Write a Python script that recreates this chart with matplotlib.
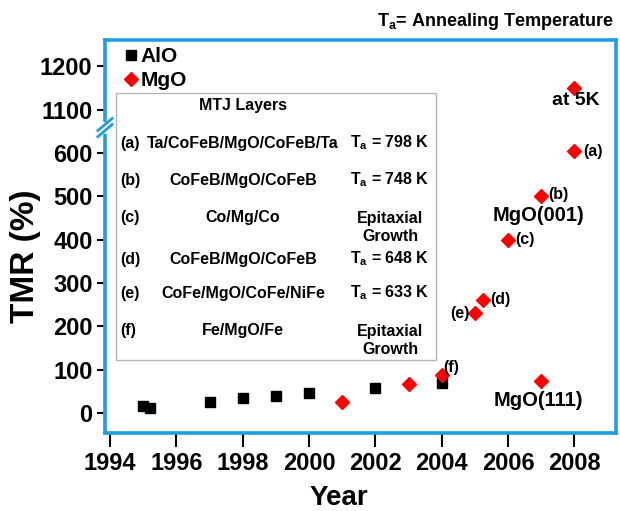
import matplotlib
matplotlib.use("Agg")
import matplotlib.pyplot as plt
from matplotlib.patches import Rectangle
import numpy as np

# data (TMR values above 1000 sit on the upper part of the broken axis)
alo_year = [1995, 1995.2, 1997, 1998, 1999, 2000, 2002, 2004]
alo_tmr = [17, 11, 26, 35, 40, 47, 58, 70]
mgo_year = [2001, 2003, 2004, 2005, 2005.25, 2006, 2007, 2008, 2007, 2008]
mgo_tmr = [25, 67, 88, 230, 260, 400, 500, 604, 75, 1150]
ytick_vals = [0, 100, 200, 300, 400, 500, 600, 1100, 1200]
xtick_vals = [1994, 1996, 1998, 2000, 2002, 2004, 2006, 2008]

# table of MTJ layers
tab_tags = ['(a)', '(b)', '(c)', '(d)', '(e)', '(f)']
tab_layers = ['Ta/CoFeB/MgO/CoFeB/Ta', 'CoFeB/MgO/CoFeB', 'Co/Mg/Co',
              'CoFeB/MgO/CoFeB', 'CoFe/MgO/CoFe/NiFe', 'Fe/MgO/Fe']
tab_temp = [798, 748, None, 648, 633, None]


def brk(v):
    # collapse the gap between 600 and 1100
    v = np.asarray(v, dtype=float)
    return np.where(v > 1000, v - 400, v)


plt.rcParams['font.family'] = ['Liberation Sans', 'DejaVu Sans']
plt.rcParams['font.weight'] = 'bold'
plt.rcParams['mathtext.fontset'] = 'custom'
plt.rcParams['mathtext.rm'] = 'Liberation Sans:bold'
plt.rcParams['mathtext.it'] = 'Liberation Sans:bold'
plt.rcParams['mathtext.bf'] = 'Liberation Sans:bold'

blue = '#1E9FE0'
red = '#FF0000'

fig = plt.figure(figsize=(6.2, 5.11), dpi=100)
ax = fig.add_axes([0.1694, 0.1526, 0.8241, 0.7691])

ax.plot(alo_year, brk(alo_tmr), 's', color='black', markersize=7.5, label='AlO', zorder=3)
ax.plot(mgo_year, brk(mgo_tmr), 'D', color=red, markersize=7, label='MgO', zorder=3)

ax.set_xlim(1993.85, 2009.25)
ax.set_ylim(-46, 861)
ax.set_xticks(xtick_vals)
ax.set_yticks(brk(ytick_vals))
ax.set_yticklabels([str(v) for v in ytick_vals])
ax.tick_params(direction='out', width=1.5, color='black', labelsize=17)
ax.tick_params(axis='x', length=10, pad=4)
ax.tick_params(axis='y', length=6, pad=3)

for s in ax.spines.values():
    s.set_color(blue)
    s.set_linewidth(2.6)
    s.set_zorder(4)

# axis break marks on the left spine
tr = ax.get_yaxis_transform()
ax.plot([0, 0], [652, 666], color='white', lw=4, transform=tr, clip_on=False, zorder=5)
for yc in [652, 666]:
    ax.plot([-0.014, 0.014], [yc - 14, yc + 14], color=blue, lw=2,
            transform=tr, clip_on=False, zorder=6)

ax.set_xlabel('Year', fontsize=20, fontweight='bold')
ax.set_ylabel('TMR (%)', fontsize=24, fontweight='bold')
ax.xaxis.set_label_coords(0.458, -0.131)
ax.yaxis.set_label_coords(-0.125, 0.45)

ax.legend(loc='upper left', bbox_to_anchor=(0.025, 1.0), frameon=False,
          fontsize=15, handlelength=0.6, handletextpad=0.15,
          labelspacing=0.22, borderaxespad=0.15, borderpad=0.2)

# annotations
ax.text(2008.05, brk(1150) - 28, 'at 5K', ha='center', va='center', fontsize=14)
ax.text(2008.25, 604, '(a)', ha='left', va='center', fontsize=11.5)
ax.text(2007.2, 505, '(b)', ha='left', va='center', fontsize=11.5)
ax.text(2006.9, 455, 'MgO(001)', ha='center', va='center', fontsize=14.5)
ax.text(2006.2, 400, '(c)', ha='left', va='center', fontsize=11.5)
ax.text(2005.45, 262, '(d)', ha='left', va='center', fontsize=11.5)
ax.text(2004.85, 230, '(e)', ha='right', va='center', fontsize=11.5)
ax.text(2004.05, 105, '(f)', ha='left', va='center', fontsize=11.5)
ax.text(2006.9, 28, 'MgO(111)', ha='center', va='center', fontsize=14.5)

fig.text(0.99, 0.958, r'T$_\mathrm{a}$= Annealing Temperature', ha='right',
         va='center', fontsize=13)

# MTJ layers table
ax.add_patch(Rectangle((0.0215, 0.1858), 0.6262, 0.6793, transform=ax.transAxes,
                       fill=False, edgecolor='#B5B5B5', lw=1, zorder=2))
ax.text(0.270, 0.8346, 'MTJ Layers', transform=ax.transAxes, ha='center',
        va='center', fontsize=11.5)
row_y = [0.7379, 0.6438, 0.5496, 0.4427, 0.3562, 0.2621]
for tag, lay, temp, yy in zip(tab_tags, tab_layers, tab_temp, row_y):
    ax.text(0.0294, yy, tag, transform=ax.transAxes, ha='left', va='center', fontsize=11.5)
    ax.text(0.270, yy, lay, transform=ax.transAxes, ha='center', va='center', fontsize=11.5)
    if temp is None:
        ax.text(0.5577, yy + 0.016, 'Epitaxial\nGrowth', transform=ax.transAxes,
                ha='center', va='top', fontsize=11.5, linespacing=1.25)
    else:
        ax.text(0.5577, yy, r'T$_\mathrm{a}$ = %d K' % temp, transform=ax.transAxes,
                ha='center', va='center', fontsize=11.5)

fig.savefig('out.png', dpi=100)
